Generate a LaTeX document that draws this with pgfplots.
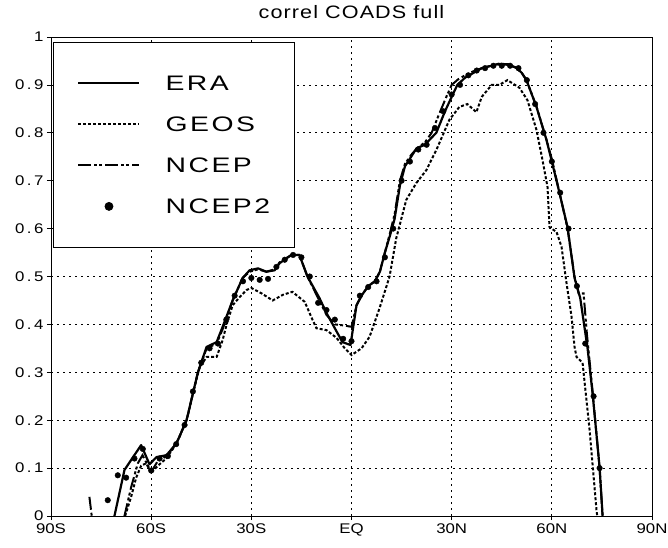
\documentclass[border=0pt]{standalone}
\usepackage{fontspec}
\setmainfont{Liberation Sans}
\newfontfamily\tickfont{Liberation Sans}[FakeStretch=1.2]
\newfontfamily\legfont{Liberation Sans}[FakeStretch=1.35, LetterSpace=12]
\newfontfamily\titfont{Liberation Sans}[FakeStretch=1.2, LetterSpace=6]
\usepackage{pgfplots}
\pgfplotsset{compat=1.18}

\newcommand{\dpt}{\kern2.5pt.\kern2.5pt}
\pgfplotsset{
  linelegend/.style={legend image code/.code={\draw[##1] (0pt,0pt) -- (61pt,0pt);}},
  dotlegend/.style={legend image code/.code={\path[draw=none, fill=none] (0pt,0pt) -- (61pt,0pt);
    \draw[##1, mark size=4pt] plot coordinates {(30.5pt,0pt)};}},
}

\begin{document}
\begin{tikzpicture}
\useasboundingbox (-51pt,-31pt) rectangle (617pt,516pt);
\begin{axis}[
  scale only axis, width=601pt, height=479pt,
  xmin=-90, xmax=90, ymin=0, ymax=1,
  xtick={-90,-60,-30,0,30,60,90},
  xticklabels={90S,60S,30S,EQ,30N,60N,90N},
  ytick={0,0.1,0.2,0.3,0.4,0.5,0.6,0.7,0.8,0.9,1},
  yticklabels={0,0\dpt1,0\dpt2,0\dpt3,0\dpt4,0\dpt5,0\dpt6,0\dpt7,0\dpt8,0\dpt9,1},
  tick align=outside, tick pos=left, major tick length=4pt,
  tick style={black, line width=0.8pt},
  axis line style={line width=0.8pt},
  grid=major,
  major grid style={black, line width=0.8pt, dash pattern=on 1.6pt off 4.4pt},
  ticklabel style={font=\tickfont\fontsize{14}{16}\selectfont},
  title={correl COADS full},
  title style={font=\titfont\fontsize{18}{20}\selectfont, anchor=base, at={(0.5,1)}, yshift=12pt},
  linelegend,
  legend style={at={(axis description cs:0.0033,0.9896)}, anchor=north west,
    draw=black, line width=0.8pt, fill=white,
    inner xsep=24pt, inner ysep=20.5pt, row sep=0pt, column sep=25pt,
    nodes={inner sep=0pt, minimum height=41pt, text depth=0pt},
    cells={anchor=west},
    font=\legfont\fontsize{21}{24}\selectfont},
  unbounded coords=jump,
]

% ERA
\addplot[black, line width=2.2pt, line join=round] coordinates {
(-71,0) (-68,0.096) (-66,0.117) (-63,0.148) (-60.5,0.108) (-58.4,0.123)
(-55.4,0.127) (-52.4,0.152) (-49.4,0.2) (-46,0.3) (-43.4,0.353) (-40.4,0.363)
(-38.6,0.395) (-35.6,0.45) (-32.6,0.497) (-30.5,0.513) (-28,0.517) (-25.5,0.51)
(-23,0.513) (-21.5,0.528) (-18,0.545) (-15.6,0.545) (-13.2,0.5) (-9.6,0.455)
(-7.5,0.424) (-5,0.392) (-2.7,0.363) (-0.3,0.357) (1.5,0.44) (3,0.46) (5,0.48)
(7,0.49) (8.5,0.51) (10,0.55) (11.5,0.585) (12.9,0.62) (14.5,0.69) (16,0.73)
(17.4,0.745) (19.5,0.768) (22,0.775) (24,0.79) (25.4,0.8) (28,0.845) (30,0.875)
(31.7,0.9) (34,0.915) (36.5,0.925) (39,0.935) (42,0.94) (44,0.944) (47,0.943)
(49.5,0.935) (51,0.925) (52.4,0.91) (55.4,0.854) (58.4,0.785) (59.9,0.743)
(62.3,0.674) (64.7,0.603) (66.8,0.497) (68.5,0.455) (70.7,0.35) (72.2,0.256)
(74.3,0.102) (75.2,0)
};
\addlegendentry{ERA}

% GEOS
\addplot[black, line width=2pt, dash pattern=on 3pt off 2pt] coordinates {
(-67.8,0) (-66,0.04) (-64.5,0.08) (-63,0.105) (-61.5,0.11) (-60,0.09) (-58,0.105)
(-55.5,0.12) (-53,0.145) (-51.5,0.165) (-49,0.21) (-47,0.27) (-45.5,0.31)
(-43.4,0.332) (-40.4,0.332) (-38.6,0.367) (-37.4,0.4) (-35.6,0.44) (-33.5,0.457)
(-31.4,0.472) (-30,0.476) (-27,0.465) (-23.6,0.45) (-20.5,0.462) (-17.7,0.468)
(-14,0.447) (-11.7,0.41) (-10.5,0.392) (-7.5,0.388) (-4.5,0.372) (-2,0.35)
(0,0.336) (3,0.35) (5.4,0.374) (8.4,0.434) (11.4,0.5) (13.4,0.58) (16.4,0.66)
(19.4,0.695) (22.4,0.722) (25.4,0.764) (29.3,0.827) (32.3,0.854) (34.7,0.86)
(37.4,0.843) (39,0.875) (42,0.9) (44.3,0.9) (46.7,0.91) (50.3,0.894)
(52.7,0.868) (55.4,0.806) (57.2,0.743) (58.7,0.687) (59.3,0.603) (61.4,0.593)
(62.9,0.562) (64.4,0.486) (65.9,0.416) (66.8,0.353) (67.4,0.332) (69.2,0.32)
(71.3,0.18) (73.4,0.01) (73.6,0)
};
\addlegendentry{GEOS}

% NCEP
\addplot[black, line width=2pt, dash pattern=on 13pt off 3pt on 3pt off 2pt on 3pt off 3pt] coordinates {
(-78.5,0.04) (-77.8,0) (-75,nan)
(-68,0) (-66,0.06) (-64,0.11) (-62.6,0.127) (-60,0.092) (-58,0.115) (-55.4,0.125)
(-52.4,0.152) (-49.4,0.2) (-46,0.3) (-43.4,0.35) (-40.4,0.36) (-38.6,0.39)
(-35.6,0.45) (-32.6,0.497) (-30.5,0.51) (-28,0.515) (-25.5,0.51) (-23,0.515)
(-21.5,0.53) (-18,0.545) (-15.6,0.545) (-13.2,0.5) (-10,0.455) (-7.5,0.42)
(-5,0.40) (-2.5,0.398) (0,0.395) (1.5,0.44) (3,0.46) (5,0.48) (7,0.49)
(8.5,0.51) (10,0.55) (11.5,0.59) (12.9,0.63) (14.5,0.7) (16,0.735) (18,0.755)
(20,0.77) (22,0.78) (24,0.8) (26,0.835) (28.4,0.875) (30,0.9) (32,0.912)
(34.5,0.922) (37,0.93) (40,0.937) (43,0.942) (46,0.943) (49,0.937) (51,0.925)
(52.4,0.91) (55.4,0.855) (58.4,0.785) (60,0.745) (62.3,0.675) (64.7,0.6)
(66.8,0.5) (68,0.465) (69.5,0.465) (70.5,0.38) (72.2,0.26) (74.3,0.1) (75.2,0)
};
\addlegendentry{NCEP}

% NCEP2
\addplot[black, only marks, mark=*, mark size=2.8pt, dotlegend] coordinates {
(-73,0.033) (-70,0.085) (-67.5,0.08) (-65,0.12) (-62.5,0.14) (-60,0.095)
(-57.5,0.12) (-55,0.125) (-52.5,0.15) (-50,0.19) (-47.5,0.26) (-45,0.32)
(-42.5,0.35) (-40,0.36) (-37.5,0.41) (-35,0.46) (-32.5,0.49) (-30,0.497)
(-27.5,0.493) (-25,0.495) (-22.5,0.52) (-20,0.535) (-17.5,0.545) (-15,0.54)
(-12.5,0.5) (-10,0.445) (-7.5,0.43) (-5,0.41) (-2.5,0.37) (0,0.365) (2.5,0.46)
(5,0.478) (7.5,0.49) (10,0.54) (12.5,0.6) (15,0.7) (17.5,0.74) (20,0.765)
(22.5,0.775) (25,0.81) (27.5,0.845) (30,0.88) (32.5,0.9) (35,0.92) (37.5,0.93)
(40,0.935) (42.5,0.94) (45,0.94) (47.5,0.94) (50,0.935) (52.5,0.91) (55,0.86)
(57.5,0.8) (60,0.74) (62.5,0.675) (65,0.6) (67.5,0.48) (70,0.36) (72.5,0.25)
(74.3,0.1)
};
\addlegendentry{NCEP2}

\end{axis}
\end{tikzpicture}
\end{document}
